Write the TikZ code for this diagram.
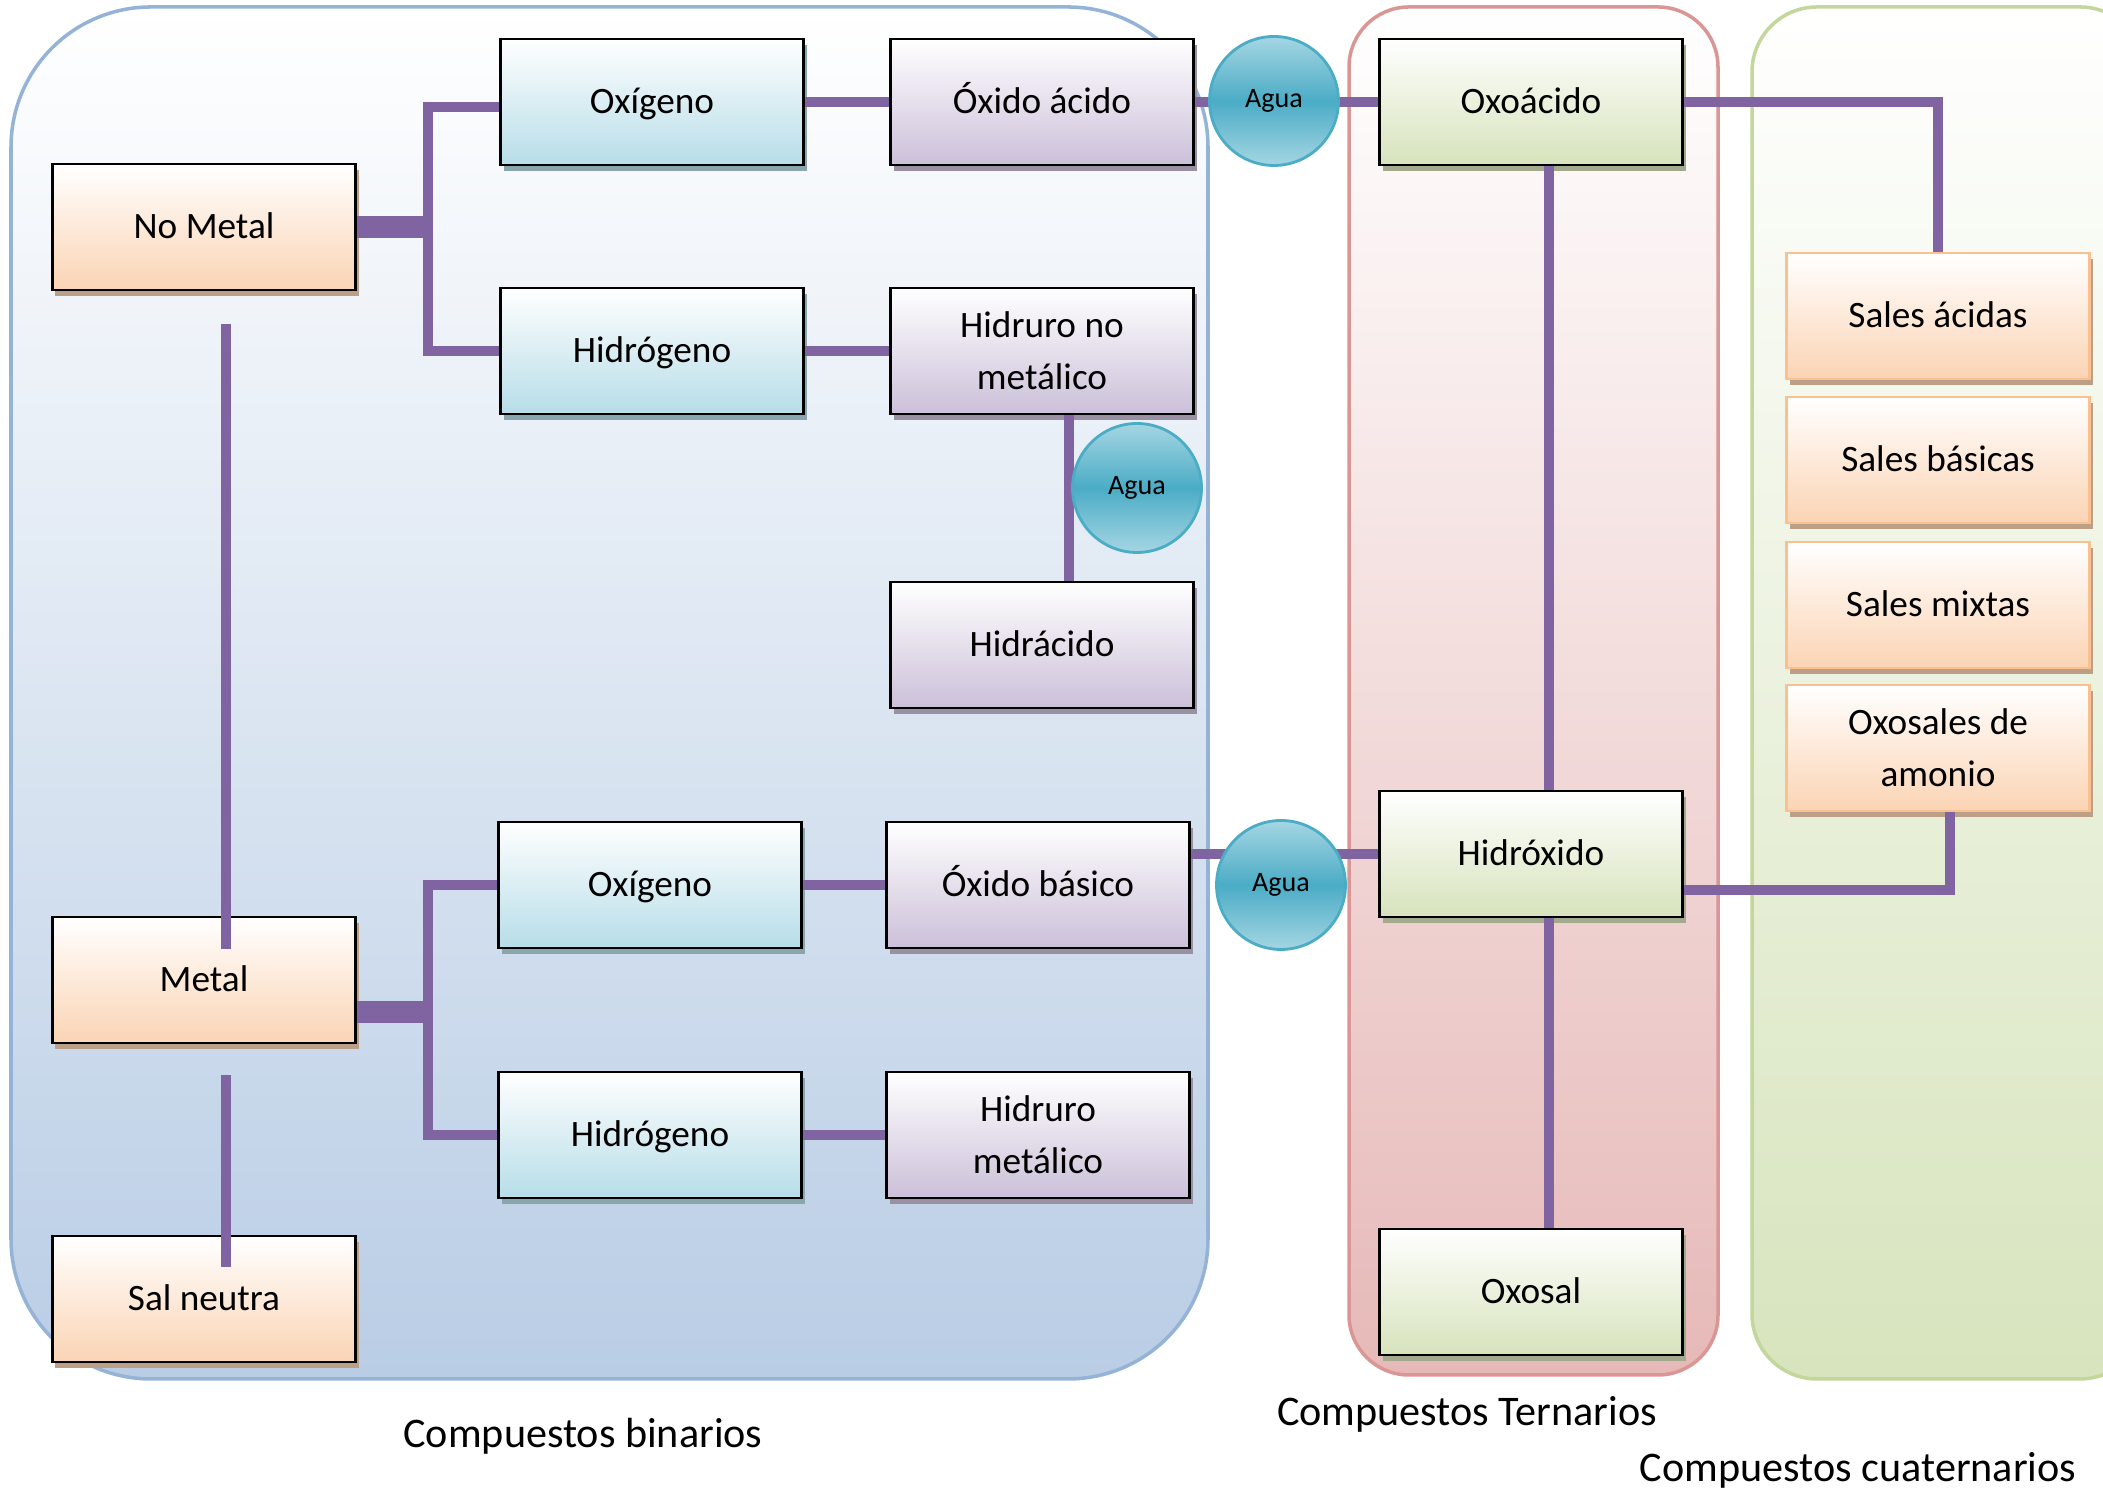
\documentclass[tikz,border=0pt]{standalone}
\usepackage{fontspec}
\setmainfont{Carlito}
\usetikzlibrary{shadows}
\definecolor{wirepurple}{HTML}{8064A2}
\definecolor{peach}{HTML}{FBD4B4}
\definecolor{iceblue}{HTML}{B7DDE8}
\definecolor{lilac}{HTML}{CCC0D9}
\definecolor{olivegreen}{HTML}{D7E3BC}
\definecolor{salesorange}{HTML}{FAC090}
\definecolor{aquablue}{HTML}{4BACC6}
\definecolor{binline}{HTML}{95B3D7}
\definecolor{binfill}{HTML}{B9CDE5}
\definecolor{terline}{HTML}{D99694}
\definecolor{terfill}{HTML}{E6B9B8}
\definecolor{cualine}{HTML}{C3D69B}
\definecolor{cuafill}{HTML}{D7E4BD}

\begin{document}
\begin{tikzpicture}[
    box/.style={draw=black, line width=0.8pt, minimum width=3.03cm, minimum height=1.26cm,
        inner sep=0pt, align=center, text height=3.1mm, text depth=0.7mm,
        font=\fontsize{10.6}{14.8}\selectfont},
    twoline/.style={text height=, text depth=},
    shadowed/.style={drop shadow={shadow xshift=0.03cm, shadow yshift=-0.06cm, fill=#1!75!black, opacity=1}},
    peachbox/.style={box, top color=white, bottom color=peach, shadowed=peach},
    bluebox/.style={box, top color=white, bottom color=iceblue, shadowed=iceblue},
    lilacbox/.style={box, top color=white, bottom color=lilac, shadowed=lilac},
    greenbox/.style={box, top color=white, bottom color=olivegreen, shadowed=olivegreen},
    salesbox/.style={box, draw=salesorange, top color=white, bottom color=peach, shadowed=peach},
    agua/.style={circle, draw=aquablue, line width=0.8pt, minimum size=1.29cm, inner sep=0pt,
        top color=aquablue!50, bottom color=aquablue!50, middle color=aquablue,
        font=\fontsize{8}{9.6}\selectfont},
    wire/.style={draw=wirepurple, line width=3.1pt},
    thickwire/.style={draw=wirepurple, line width=6.4pt},
    caption/.style={font=\fontsize{12}{14}\selectfont}
]
    \useasboundingbox (0, 0) rectangle (21.03, 14.93);
    \clip (0, 0) rectangle (21.03, 14.93);
    % Panels:
    \draw[draw=binline, line width=1pt, rounded corners=1.4cm, top color=white, bottom color=binfill]
        (0.11, 1.14) rectangle (12.08, 14.86);
    \draw[draw=terline, line width=1pt, rounded corners=0.6cm, top color=white, bottom color=terfill]
        (13.49, 1.18) rectangle (17.18, 14.86);
    \draw[draw=cualine, line width=1pt, rounded corners=0.65cm, top color=white, bottom color=cuafill]
        (17.52, 1.14) rectangle (21.45, 14.86);

    % Boxes:
    \node[peachbox] (NoMetal) at (2.04, 12.66) {No Metal};
    \node[peachbox] (Metal) at (2.04, 5.13) {Metal};
    \node[peachbox] (SalNeutra) at (2.04, 1.94) {Sal neutra};
    \node[bluebox] (OxigenoA) at (6.52, 13.91) {Oxígeno};
    \node[bluebox] (HidrogenoA) at (6.52, 11.42) {Hidrógeno};
    \node[bluebox] (OxigenoB) at (6.50, 6.08) {Oxígeno};
    \node[bluebox] (HidrogenoB) at (6.50, 3.58) {Hidrógeno};
    \node[lilacbox] (OxidoAcido) at (10.42, 13.91) {Óxido ácido};
    \node[lilacbox, twoline] (HidruroNM) at (10.42, 11.42) {Hidruro no\\metálico};
    \node[lilacbox] (Hidracido) at (10.42, 8.48) {Hidrácido};
    \node[lilacbox] (OxidoBasico) at (10.38, 6.08) {Óxido básico};
    \node[lilacbox, twoline] (HidruroM) at (10.38, 3.58) {Hidruro\\metálico};
    \node[greenbox] (Oxoacido) at (15.31, 13.91) {Oxoácido};
    \node[greenbox] (Hidroxido) at (15.31, 6.39) {Hidróxido};
    \node[greenbox] (Oxosal) at (15.31, 2.01) {Oxosal};
    \node[salesbox] (SalesAcidas) at (19.38, 11.77) {Sales ácidas};
    \node[salesbox] (SalesBasicas) at (19.38, 10.33) {Sales básicas};
    \node[salesbox] (SalesMixtas) at (19.38, 8.88) {Sales mixtas};
    \node[salesbox, twoline] (OxosalesAmonio) at (19.38, 7.45) {Oxosales de\\amonio};
    \coordinate (forkA) at (4.28, 12.66);
    \coordinate (forkB) at (4.28, 4.81);

    % Wires:
    \draw[thickwire] (NoMetal.east) -- (forkA);
    \draw[wire] ([yshift=-0.05cm]OxigenoA.west) -| (forkA) |- (HidrogenoA.west);
    \draw[thickwire] ([yshift=-0.32cm]Metal.east) -- (forkB);
    \draw[wire] (OxigenoB.west) -| (forkB) |- (HidrogenoB.west);
    \draw[wire] (OxigenoA.east) -- (OxidoAcido.west);
    \draw[wire] (HidrogenoA.east) -- (HidruroNM.west);
    \draw[wire] (OxigenoB.east) -- (OxidoBasico.west);
    \draw[wire] (HidrogenoB.east) -- (HidruroM.west);
    \draw[wire] ([xshift=0.27cm]HidruroNM.south) -- ([xshift=0.27cm]Hidracido.north);
    \draw[wire] (OxidoAcido.east) -- (Oxoacido.west);
    \draw[wire] (OxidoBasico.east |- Hidroxido.west) -- (Hidroxido.west);
    \draw[wire] ([xshift=0.18cm]Oxoacido.south) -- ([xshift=0.18cm]Hidroxido.north);
    \draw[wire] ([xshift=0.18cm]Hidroxido.south) -- ([xshift=0.18cm]Oxosal.north);
    \draw[wire] (Oxoacido.east) -| (SalesAcidas.north);
    \draw[wire] ([yshift=-0.36cm]Hidroxido.east) -| ([xshift=0.12cm]OxosalesAmonio.south);
    \draw[wire] ([xshift=0.22cm, yshift=-0.33cm]NoMetal.south) -- ([xshift=0.22cm, yshift=-0.33cm]Metal.north);
    \draw[wire] ([xshift=0.22cm, yshift=-0.31cm]Metal.south) -- ([xshift=0.22cm, yshift=-0.32cm]SalNeutra.north);

    % Agua:
    \node[agua] (AguaA) at (12.74, 13.92) {Agua};
    \node[agua] (AguaB) at (11.37, 10.05) {Agua};
    \node[agua] (AguaC) at (12.81, 6.08) {Agua};

    \node[caption] (Binarios) at (5.83, 0.57) {Compuestos binarios};
    \node[caption] (Ternarios) at (14.67, 0.79) {Compuestos Ternarios};
    \node[caption] (Cuaternarios) at (18.58, 0.23) {Compuestos cuaternarios};
\end{tikzpicture}
\end{document}
